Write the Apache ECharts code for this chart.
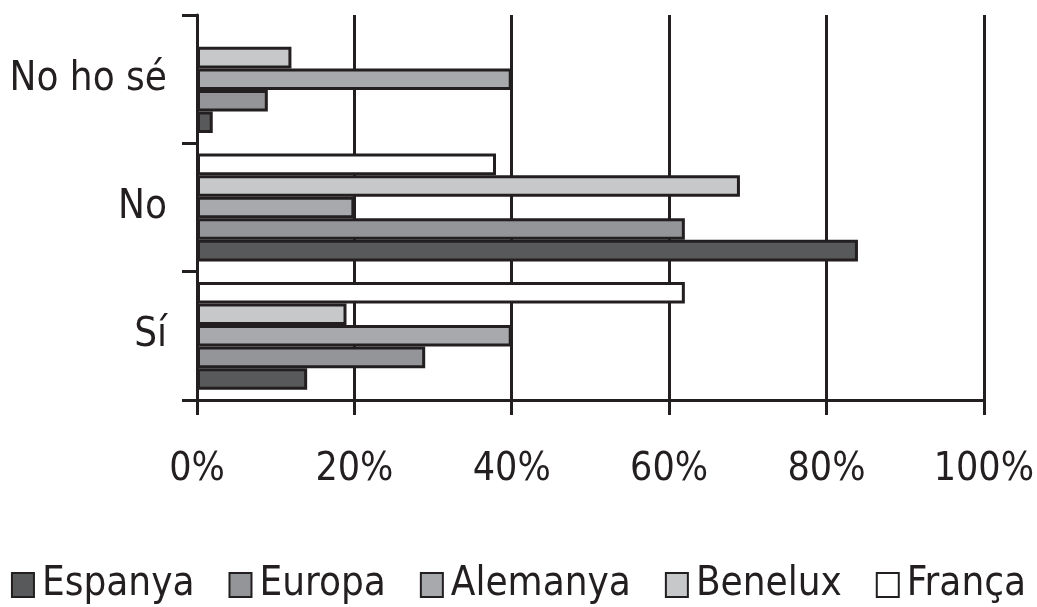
<!DOCTYPE html>
<html><head><meta charset="utf-8">
<script src="https://cdn.jsdelivr.net/npm/echarts@6/dist/echarts.min.js"></script>
<style>html,body{margin:0;padding:0;background:#fff}#c{width:1037px;height:607px}</style>
</head><body><div id="c"></div>
<script>
const categories = ['Sí', 'No', 'No ho sé'];
const seriesNames = ['Espanya', 'Europa', 'Alemanya', 'Benelux', 'França'];
const espanya = [14, 84, 2];
const europa = [29, 62, 9];
const alemanya = [40, 20, 40];
const benelux = [19, 69, 12];
const franca = [62, 38, '-'];
const tickLabels = ['0%', '20%', '40%', '60%', '80%', '100%'];

const values = [espanya, europa, alemanya, benelux, franca];
const colors = ['#58595b', '#939598', '#a7a9ac', '#c7c8ca', '#ffffff'];
const ink = '#231f20';
const font = '"DejaVu Sans Condensed", "Liberation Sans Narrow", sans-serif';

const order = [4, 3, 2, 1, 0]; // ECharts stacks first series at top of each band
const chart = echarts.init(document.getElementById('c'), null, {renderer: 'canvas'});
chart.setOption({
  animation: false,
  backgroundColor: '#fff',
  grid: {left: 197, right: 52, top: 15, bottom: 207, containLabel: false},
  xAxis: {
    type: 'value', min: 0, max: 100, interval: 20,
    axisLine: {show: true, lineStyle: {color: ink, width: 3}},
    axisTick: {show: true, length: 15, lineStyle: {color: ink, width: 3}},
    splitLine: {show: true, lineStyle: {color: ink, width: 3}},
    axisLabel: {
      margin: 50, color: ink, fontFamily: font, fontSize: 39,
      formatter: function (v) { return tickLabels[Math.round(v / 20)]; }
    }
  },
  yAxis: {
    type: 'category', data: categories,
    axisLine: {show: true, lineStyle: {color: ink, width: 3}},
    axisTick: {show: true, length: 15, lineStyle: {color: ink, width: 3}},
    axisLabel: {margin: 30, color: ink, fontFamily: font, fontSize: 40}
  },
  legend: {
    bottom: 2, left: 'center', padding: 0,
    itemWidth: 22, itemHeight: 24, itemGap: 34,
    icon: 'rect',
    itemStyle: {borderColor: ink, borderWidth: 2},
    textStyle: {color: ink, fontFamily: font, fontSize: 40, padding: [0, 0, 0, 3]},
    data: seriesNames
  },
  series: order.map(i => ({
    name: seriesNames[i], type: 'bar', data: values[i],
    barGap: '0%', barCategoryGap: '16%',
    itemStyle: {color: colors[i], borderColor: ink, borderWidth: 3}
  }))
});
</script></body></html>
